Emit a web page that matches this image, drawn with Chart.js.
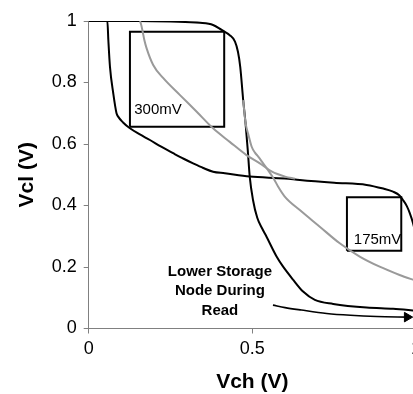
<!DOCTYPE html>
<html>
<head>
<meta charset="utf-8">
<script src="https://cdn.jsdelivr.net/npm/chart.js@4/dist/chart.umd.min.js"></script>
<style>
  html, body { margin: 0; padding: 0; background: #fff; overflow: hidden; }
  #wrap { width: 413px; height: 394px; overflow: hidden; position: relative; }
  canvas { display: block; }
</style>
</head>
<body>
<div id="wrap"><canvas id="c" width="426" height="394"></canvas></div>
<script>
// ---- Data ----
const curveA_x = [0, 0.15, 0.25, 0.34, 0.38, 0.406, 0.431, 0.447, 0.456, 0.463, 0.472, 0.479, 0.486, 0.492, 0.502, 0.515, 0.53, 0.543, 0.574, 0.594, 0.625, 0.655, 0.691, 0.747, 0.849, 0.93, 1.0];
const curveA_y = [1, 1, 0.998, 0.994, 0.987, 0.971, 0.954, 0.933, 0.9, 0.851, 0.743, 0.67, 0.58, 0.494, 0.418, 0.36, 0.325, 0.299, 0.234, 0.201, 0.158, 0.12, 0.093, 0.080, 0.068, 0.064, 0.058];

const curveB_x = [0, 0.057, 0.060, 0.065, 0.075, 0.085, 0.090, 0.105, 0.126, 0.155, 0.187, 0.22, 0.258, 0.29, 0.319, 0.35, 0.380, 0.416, 0.492, 0.599, 0.645, 0.75, 0.849, 0.90, 0.930, 0.948, 0.960, 0.972, 0.981, 0.991, 1.0];
const curveB_y = [1, 1, 0.938, 0.851, 0.765, 0.70, 0.689, 0.67, 0.651, 0.632, 0.613, 0.592, 0.570, 0.552, 0.537, 0.522, 0.510, 0.505, 0.494, 0.488, 0.483, 0.474, 0.467, 0.455, 0.445, 0.434, 0.418, 0.398, 0.375, 0.342, 0.30];

const grayG1_x = [0.157, 0.161, 0.165, 0.170, 0.177, 0.197, 0.228, 0.279, 0.330, 0.380, 0.431, 0.482, 0.523, 0.56, 0.60, 0.63];
const grayG1_y = [1.0, 0.985, 0.965, 0.938, 0.911, 0.857, 0.814, 0.759, 0.705, 0.651, 0.607, 0.564, 0.537, 0.51, 0.494, 0.487];

const grayG2_x = [0.472, 0.479, 0.488, 0.498, 0.508, 0.518, 0.533, 0.548, 0.565, 0.579, 0.599, 0.645, 0.706, 0.767, 0.828, 0.889, 0.950, 1.0];
const grayG2_y = [0.743, 0.67, 0.63, 0.591, 0.572, 0.559, 0.537, 0.515, 0.488, 0.461, 0.429, 0.385, 0.331, 0.277, 0.234, 0.201, 0.174, 0.155];

const arrow_x = [0.563, 0.60, 0.65, 0.727, 0.80, 0.88, 0.975];
const arrow_y = [0.076, 0.068, 0.060, 0.049, 0.043, 0.039, 0.037];
const arrowHead = [0.973, 0.037];

const box300_x = [0.126, 0.414];
const box300_y = [0.656, 0.965];
const box175_x = [0.789, 0.955];
const box175_y = [0.253, 0.427];

const xTicks = [0, 0.5, 1];
const yTicks = [0, 0.2, 0.4, 0.6, 0.8, 1];

const labelTexts = ["300mV", "175mV"];
const labelAnchors = [[0.139, 0.711], [0.81, 0.288]];
const noteLines = ["Lower Storage", "Node During", "Read"];
const noteAnchor = [0.401, [0.185, 0.121, 0.058]];

const xTitle = "Vch (V)";
const yTitle = "Vcl (V)";

// ---- build ----
const pts = (xs, ys) => xs.map((x, i) => ({x: x, y: ys[i]}));
const rect = (bx, by) => [
  {x: bx[0], y: by[0]}, {x: bx[1], y: by[0]}, {x: bx[1], y: by[1]},
  {x: bx[0], y: by[1]}, {x: bx[0], y: by[0]}
];

const GRAY = '#9a9a9a';
const lineDs = (data, color, w, smooth) => ({
  data: data, borderColor: color, backgroundColor: color, borderWidth: w,
  pointRadius: 0, showLine: true, fill: false,
  cubicInterpolationMode: smooth ? 'monotone' : 'default', tension: 0
});

const datasets = [
  lineDs(pts(grayG1_x, grayG1_y), GRAY, 2, true),
  lineDs(pts(grayG2_x, grayG2_y), GRAY, 2, true),
  lineDs(pts(curveA_x, curveA_y), '#000', 2, true),
  lineDs(pts(curveB_x, curveB_y), '#000', 2, true),
  lineDs(rect(box300_x, box300_y), '#000', 2, false),
  lineDs(rect(box175_x, box175_y), '#000', 2, false),
  lineDs(pts(arrow_x, arrow_y), '#000', 1.6, true),
  {
    data: [{x: arrowHead[0], y: arrowHead[1]}], showLine: false,
    pointStyle: 'triangle', rotation: 90, pointRadius: 5.5,
    backgroundColor: '#000', borderColor: '#000', borderWidth: 1
  }
];

const textPlugin = {
  id: 'texts',
  afterDatasetsDraw(chart) {
    const {ctx, scales: {x, y}} = chart;
    ctx.save();
    ctx.fillStyle = '#000';
    ctx.textBaseline = 'middle';
    ctx.font = '15px "Liberation Sans", Arial, sans-serif';
    ctx.textAlign = 'left';
    labelTexts.forEach((t, i) => {
      ctx.fillText(t, x.getPixelForValue(labelAnchors[i][0]), y.getPixelForValue(labelAnchors[i][1]));
    });
    ctx.font = 'bold 15px "Liberation Sans", Arial, sans-serif';
    ctx.textAlign = 'center';
    noteLines.forEach((t, i) => {
      ctx.fillText(t, x.getPixelForValue(noteAnchor[0]), y.getPixelForValue(noteAnchor[1][i]));
    });
    ctx.restore();
  }
};

const FONT = '"Liberation Sans", Arial, sans-serif';

new Chart(document.getElementById('c'), {
  type: 'scatter',
  data: { datasets: datasets },
  options: {
    responsive: false,
    devicePixelRatio: 1,
    animation: false,
    layout: { padding: { left: 10, right: 5, top: 21, bottom: 0 } },
    plugins: { legend: { display: false }, tooltip: { enabled: false } },
    scales: {
      x: {
        type: 'linear', min: 0, max: 1,
        afterBuildTicks: s => { s.ticks = xTicks.map(v => ({value: v})); },
        afterFit: s => { s.height = 65.5; },
        border: { color: '#808080', width: 1 },
        grid: { drawOnChartArea: false, drawTicks: true, tickLength: 5, color: '#808080' },
        ticks: { color: '#000', font: { family: FONT, size: 18 }, padding: 5, maxRotation: 0,
                 callback: v => String(v) },
        title: { display: true, text: xTitle, color: '#000',
                 font: { family: FONT, size: 21, weight: 'bold' }, padding: { top: 8, bottom: -1 } }
      },
      y: {
        type: 'linear', min: 0, max: 1,
        afterBuildTicks: s => { s.ticks = yTicks.map(v => ({value: v})); },
        afterFit: s => { s.width = 78.7; },
        border: { color: '#808080', width: 1 },
        grid: { drawOnChartArea: false, drawTicks: true, tickLength: 5, color: '#808080' },
        ticks: { color: '#000', font: { family: FONT, size: 18 }, padding: 7,
                 callback: v => String(v) },
        title: { display: true, text: yTitle, color: '#000',
                 font: { family: FONT, size: 21, weight: 'bold' }, padding: { top: 5, bottom: 11 } }
      }
    }
  },
  plugins: [textPlugin]
});
</script>
</body>
</html>
